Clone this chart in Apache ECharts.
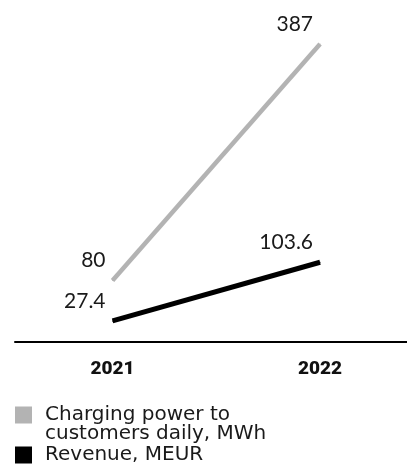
<!DOCTYPE html>
<html>
<head>
<meta charset="utf-8">
<script src="https://cdn.jsdelivr.net/npm/echarts@6/dist/echarts.min.js"></script>
<style>
  html, body { margin: 0; padding: 0; background: #fff; }
  #chart { width: 407px; height: 476px; }
</style>
</head>
<body>
<div id="chart"></div>
<script>
const years = [2021, 2022];
const chargingPower = [80, 387];
const revenue = [27.4, 103.6];
const seriesNames = ['Charging power to\ncustomers daily, MWh', 'Revenue, MEUR'];

const chart = echarts.init(document.getElementById('chart'));

const pointLabel = {
  show: true,
  position: 'inside',
  align: 'right',
  verticalAlign: 'middle',
  offset: [-7, -20],
  fontFamily: 'Lato',
  fontSize: 21,
  color: '#1a1a1a'
};

const legendText = {
  fontFamily: 'DejaVu Sans',
  fontSize: 20,
  lineHeight: 19,
  color: '#1a1a1a',
  padding: [0, 0, 0, 8]
};

const option = {
  animation: false,
  grid: { left: 15, right: 0, top: 34, bottom: 134 },
  xAxis: {
    type: 'value',
    min: 2020.53,
    max: 2022.419,
    axisLine: { show: true, lineStyle: { color: '#000', width: 2 } },
    axisTick: { show: false },
    splitLine: { show: false },
    axisLabel: {
      customValues: years,
      formatter: (v) => String(v),
      margin: 18,
      fontFamily: 'Roboto',
      fontSize: 19,
      fontWeight: 900,
      color: '#111'
    }
  },
  yAxis: {
    type: 'value',
    min: 0,
    max: 400,
    show: false,
    splitLine: { show: false }
  },
  legend: [
    {
      data: [seriesNames[0]],
      // empty first line so the icon lines up with the first text line
      formatter: (name) => '\n' + name,
      orient: 'vertical',
      left: 15,
      top: 386,
      padding: 0,
      icon: 'rect',
      itemWidth: 17,
      itemHeight: 17,
      textStyle: legendText
    },
    {
      data: [seriesNames[1]],
      orient: 'vertical',
      left: 15,
      top: 445,
      padding: 0,
      icon: 'rect',
      itemWidth: 17,
      itemHeight: 17,
      textStyle: legendText
    }
  ],
  series: [
    {
      name: seriesNames[0],
      type: 'line',
      data: years.map((y, i) => [y, chargingPower[i]]),
      symbol: 'circle',
      symbolSize: 1,
      color: '#b3b3b3',
      lineStyle: { color: '#b3b3b3', width: 4.5 },
      label: pointLabel
    },
    {
      name: seriesNames[1],
      type: 'line',
      data: years.map((y, i) => [y, revenue[i]]),
      symbol: 'circle',
      symbolSize: 1,
      color: '#000',
      lineStyle: { color: '#000', width: 5 },
      label: pointLabel
    }
  ]
};

chart.setOption(option);
</script>
</body>
</html>
